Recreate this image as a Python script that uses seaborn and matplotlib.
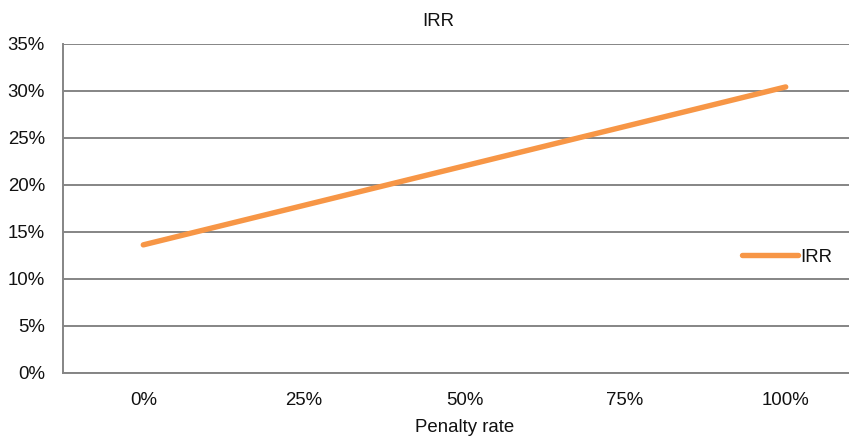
import matplotlib
matplotlib.use("Agg")
import matplotlib.pyplot as plt
import seaborn as sns
import pandas as pd
import numpy as np
from matplotlib.ticker import FixedLocator, PercentFormatter

# Data
penalty_labels = ["0%", "25%", "50%", "75%", "100%"]
irr_values = [13.6, 17.8, 22.0, 26.2, 30.4]  # percent
y_ticks = [0, 5, 10, 15, 20, 25, 30, 35]

sns.set_style("white")
plt.rcParams["font.family"] = ["Liberation Sans", "DejaVu Sans"]

df = pd.DataFrame({"pos": np.arange(len(penalty_labels)), "IRR": irr_values})

fig = plt.figure(figsize=(8.49, 4.40), dpi=100)
# plot area extends slightly past the right edge of the image, as in the reference
ax = fig.add_axes([63/849, 1-372.7/440, (866-63)/849, (372.7-43.7)/440])

orange = "#F79646"
grid_c = "#858585"
txt_c = "#111111"
fs = 13.4

sns.lineplot(data=df, x="pos", y="IRR", ax=ax, color=orange, linewidth=3.9,
             solid_capstyle="round", label="IRR")

ax.set_xlim(-0.5, len(penalty_labels) - 0.5)
ax.set_ylim(0, 35)
ax.set_yticks(y_ticks)
ax.yaxis.set_major_formatter(PercentFormatter(decimals=0))
ax.grid(axis="y", color=grid_c, linewidth=1.4)
ax.set_axisbelow(True)

ax.set_xticks(np.arange(len(penalty_labels)))
ax.set_xticklabels(penalty_labels)
ax.xaxis.set_minor_locator(FixedLocator(np.arange(len(penalty_labels)+1) - 0.5))
ax.tick_params(axis="x", which="major", length=0, pad=14, labelsize=fs, labelcolor=txt_c)
ax.tick_params(axis="x", which="minor", length=4.5, width=1.2, color=grid_c, direction="out")
ax.tick_params(axis="y", length=4.5, width=1.2, color=grid_c, direction="out", labelsize=fs,
               pad=8.5, labelcolor=txt_c)

for s in ["top", "right"]:
    ax.spines[s].set_visible(False)
for s in ["left", "bottom"]:
    ax.spines[s].set_color(grid_c)
    ax.spines[s].set_linewidth(1.4)

ax.set_xlabel("Penalty rate", fontsize=fs, labelpad=7, color=txt_c)
ax.set_ylabel("")
fig.text(438/849, 1-21/440, "IRR", ha="center", va="center", fontsize=fs, color=txt_c)

leg = ax.legend(loc="center left", bbox_to_anchor=(742/849, 1-257/440),
                bbox_transform=fig.transFigure, frameon=False, fontsize=fs,
                handlelength=3.0, handletextpad=0.12, borderpad=0, borderaxespad=0)
for t in leg.get_texts():
    t.set_color(txt_c)

fig.savefig("out.png", dpi=100)
